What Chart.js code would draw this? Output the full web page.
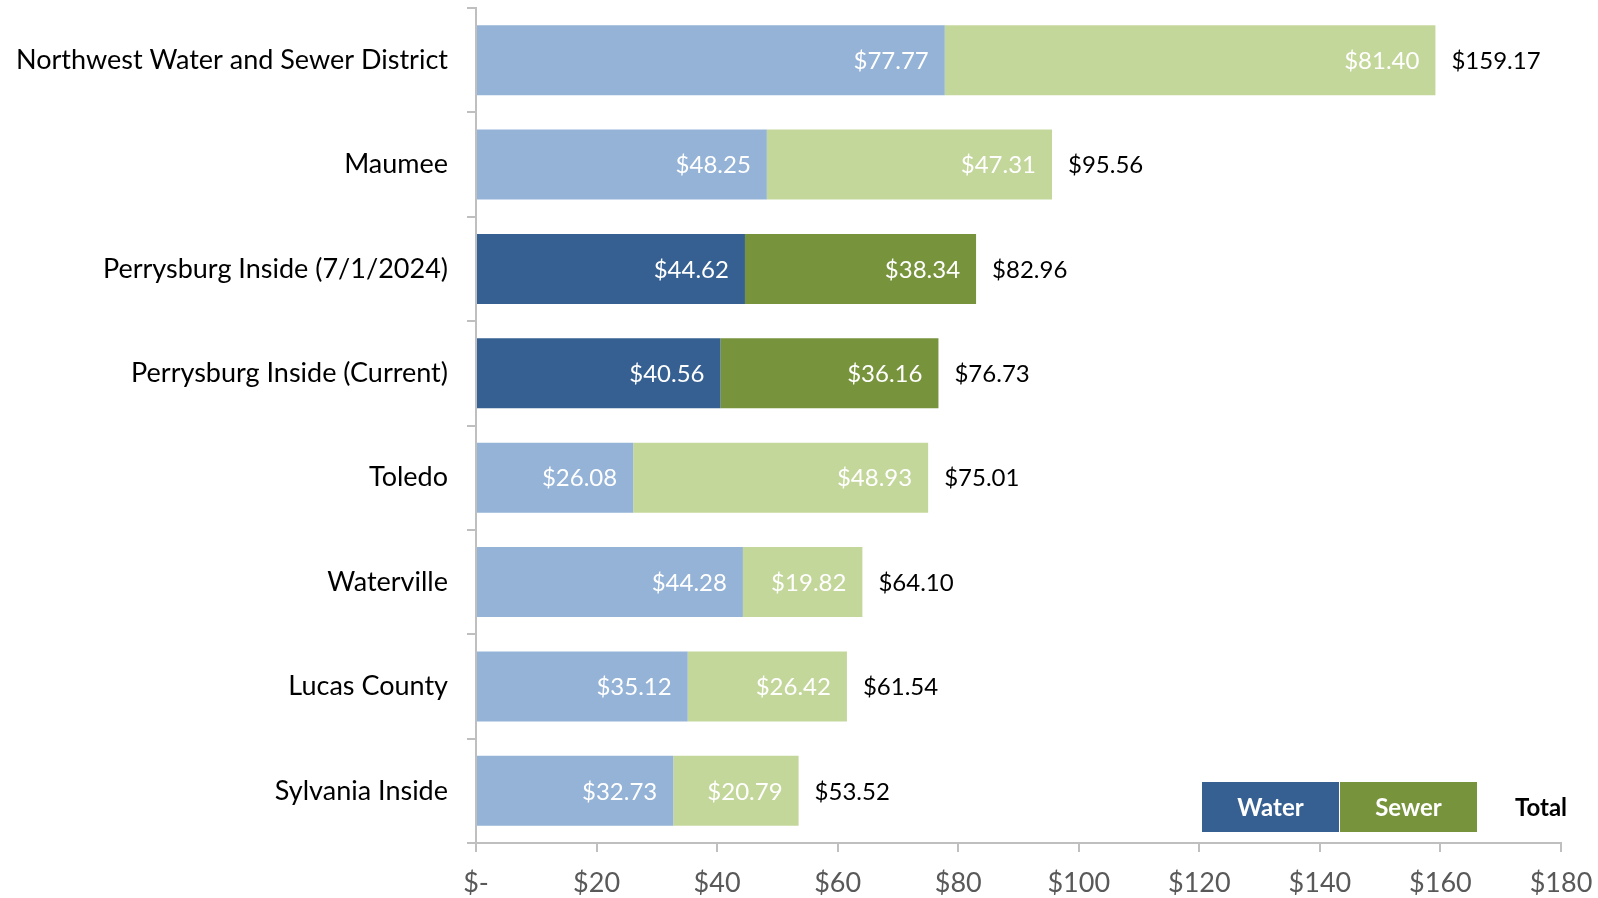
<!DOCTYPE html>
<html>
<head>
<meta charset="utf-8">
<script src="https://cdn.jsdelivr.net/npm/chart.js@4"></script>
<style>
  body { margin: 0; background: #fff; }
  #wrap { width: 1598px; height: 898px; }
</style>
</head>
<body>
<div id="wrap"><canvas id="rateChart" width="1598" height="898"></canvas></div>
<script>
const categories = [
    'Northwest Water and Sewer District',
    'Maumee',
    'Perrysburg Inside (7/1/2024)',
    'Perrysburg Inside (Current)',
    'Toledo',
    'Waterville',
    'Lucas County',
    'Sylvania Inside'
];
const waterValues = [77.77, 48.25, 44.62, 40.56, 26.08, 44.28, 35.12, 32.73];
const sewerValues = [81.40, 47.31, 38.34, 36.16, 48.93, 19.82, 26.42, 20.79];
const totalValues = [159.17, 95.56, 82.96, 76.73, 75.01, 64.10, 61.54, 53.52];
const xTickValues = [0, 20, 40, 60, 80, 100, 120, 140, 160, 180];

const FONT = 'Lato';

// Perrysburg rows are highlighted with the darker colours
const waterColors = categories.map(c => c.startsWith('Perrysburg') ? '#366092' : '#95b3d7');
const sewerColors = categories.map(c => c.startsWith('Perrysburg') ? '#77933c' : '#c4d79b');

function money(v) {
    return '$' + v.toFixed(2);
}

const barLabels = {
    id: 'barLabels',
    afterDatasetsDraw(chart) {
        const ctx = chart.ctx;
        ctx.save();
        ctx.font = '24px ' + FONT;
        ctx.textBaseline = 'middle';
        chart.data.datasets.forEach((ds, i) => {
            const meta = chart.getDatasetMeta(i);
            meta.data.forEach((bar, j) => {
                ctx.fillStyle = '#ffffff';
                ctx.textAlign = 'right';
                ctx.fillText(money(ds.data[j]), bar.x - 16, bar.y + 1);
            });
        });
        // totals after the end of the sewer bar
        const sewerMeta = chart.getDatasetMeta(1);
        sewerMeta.data.forEach((bar, j) => {
            ctx.fillStyle = '#000000';
            ctx.textAlign = 'left';
            ctx.fillText(money(totalValues[j]), bar.x + 16, bar.y + 1);
        });
        ctx.restore();
    }
};

const boxLegend = {
    id: 'boxLegend',
    afterDraw(chart) {
        const ctx = chart.ctx;
        const area = chart.chartArea;
        const top = area.bottom - 61;
        const h = 50;
        const w = 137;
        const x0 = area.right - 359;
        ctx.save();
        ctx.fillStyle = '#366092';
        ctx.fillRect(x0, top, w, h);
        ctx.fillStyle = '#77933c';
        ctx.fillRect(x0 + w + 1, top, w, h);
        ctx.font = 'bold 24px ' + FONT;
        ctx.textAlign = 'center';
        ctx.textBaseline = 'middle';
        ctx.fillStyle = '#ffffff';
        ctx.fillText('Water', x0 + w / 2, top + h / 2 + 1);
        ctx.fillText('Sewer', x0 + w + 1 + w / 2, top + h / 2 + 1);
        ctx.fillStyle = '#000000';
        ctx.fillText('Total', area.right - 20, top + h / 2 + 1);
        ctx.restore();
    }
};

new Chart(document.getElementById('rateChart'), {
    type: 'bar',
    data: {
        labels: categories,
        datasets: [
            { label: 'Water', data: waterValues, backgroundColor: waterColors },
            { label: 'Sewer', data: sewerValues, backgroundColor: sewerColors }
        ]
    },
    options: {
        indexAxis: 'y',
        responsive: false,
        animation: false,
        layout: { padding: { top: 8, right: 37, left: 0, bottom: 0 } },
        datasets: { bar: { categoryPercentage: 1, barPercentage: 0.67 } },
        plugins: { legend: { display: false }, tooltip: { enabled: false } },
        scales: {
            x: {
                stacked: true,
                min: 0,
                max: 180,
                afterBuildTicks(scale) {
                    scale.ticks = xTickValues.map(v => ({ value: v }));
                },
                afterFit(scale) {
                    scale.height = 55;
                    scale.paddingLeft = 0;
                    scale.paddingRight = 0;
                },
                border: { color: '#bfbfbf', width: 2 },
                grid: { drawOnChartArea: false, color: '#bfbfbf', lineWidth: 2, tickLength: 9 },
                ticks: {
                    color: '#595959',
                    font: { family: FONT, size: 27 },
                    padding: 15,
                    callback: v => v === 0 ? '$-' : '$' + v
                }
            },
            y: {
                stacked: true,
                afterFit(scale) {
                    scale.width = 476;
                    scale.paddingTop = 0;
                    scale.paddingBottom = 0;
                },
                border: { color: '#bfbfbf', width: 2 },
                grid: { drawOnChartArea: false, color: '#bfbfbf', lineWidth: 2, tickLength: 9 },
                ticks: {
                    color: '#000000',
                    font: { family: FONT, size: 27 },
                    padding: 19
                }
            }
        }
    },
    plugins: [barLabels, boxLegend]
});
</script>
</body>
</html>
